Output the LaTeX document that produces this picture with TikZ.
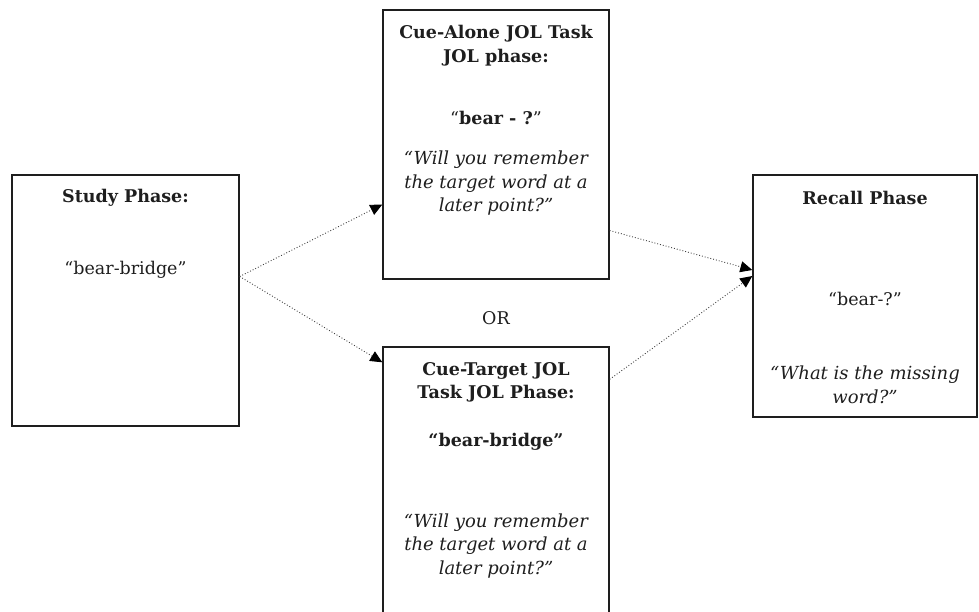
\documentclass[tikz,border=0pt]{standalone}
\usepackage{fontspec}
\setmainfont{DejaVu Serif}
\usetikzlibrary{arrows.meta}
\definecolor{ink}{HTML}{1E1E1E}
\tikzset{
  box/.style={draw=ink, line width=1.4pt, fill=none, inner sep=0pt},
  txt/.style={text=ink, align=center, inner sep=0pt, font=\fontsize{17.5}{23.5}\selectfont},
  btxt/.style={txt, font=\fontsize{17.5}{23.5}\selectfont\bfseries},
  itxt/.style={txt, font=\fontsize{18}{23.5}\selectfont\itshape},
  flow/.style={draw=ink!85, line width=0.9pt, dotted, -{Triangle[length=12pt,width=11pt,color=black,fill=black]}}
}
\begin{document}
\begin{tikzpicture}[x=1pt,y=-1pt]
\useasboundingbox (0,0) rectangle (979,611);
% boxes
\node[box, minimum width=227pt, minimum height=251pt] (study) at (125.5,300.5) {};
\node[box, minimum width=226pt, minimum height=269pt] (cuealone) at (496,144.5) {};
\node[box, minimum width=226pt, minimum height=280pt] (cuetarget) at (496,487) {};
\node[box, minimum width=224pt, minimum height=242pt] (recall) at (865,296) {};
% study texts
\node[btxt] (st1) at (125.5,198) {Study Phase:};
\node[txt] (st2) at (125.5,270) {“bear-bridge”};
% cue-alone texts
\node[btxt] (ca1) at (496,45.5) {Cue-Alone JOL Task\\JOL phase:};
\node[txt] (ca2) at (496,118) {“\textbf{bear - ?}”};
\node[itxt] (ca3) at (496,183.5) {“Will you remember\\the target word at a\\later point?”};
% OR
\node[txt] (or) at (496,318) {OR};
% cue-target texts
\node[btxt] (ct1) at (496,382.5) {Cue-Target JOL\\Task JOL Phase:};
\node[btxt] (ct2) at (496,442) {“bear-bridge”};
\node[itxt] (ct3) at (496,546) {“Will you remember\\the target word at a\\later point?”};
% recall texts
\node[btxt] (rc1) at (865,198) {Recall Phase};
\node[txt] (rc2) at (865,299) {“bear-?”};
\node[itxt] (rc3) at (865,385) {“What is the missing\\word?”};
% connectors
\draw[flow] ([yshift=24pt]study.east) -- ([yshift=-60pt]cuealone.west);
\draw[flow] ([yshift=24pt]study.east) -- ([yshift=-16pt]cuetarget.north west);
\draw[flow] ([yshift=-86pt]cuealone.east) -- ([yshift=26pt]recall.west);
\draw[flow] ([yshift=-33pt]cuetarget.north east) -- ([yshift=20pt]recall.west);
\end{tikzpicture}
\end{document}
